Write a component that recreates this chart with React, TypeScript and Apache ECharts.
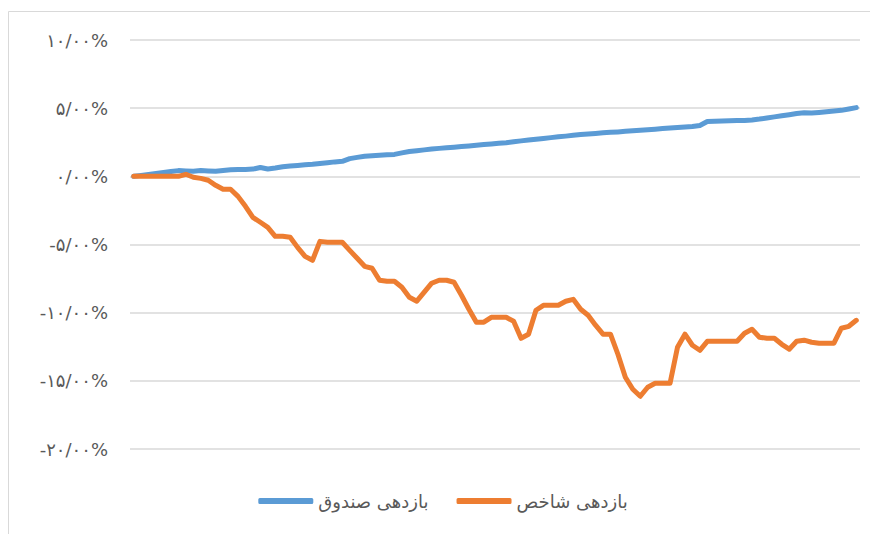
import React, { useEffect, useRef } from "react";
import * as echarts from "echarts";

const fundName = "بازدهی صندوق";
const indexName = "بازدهی شاخص";

const yTicks = [-20, -15, -10, -5, 0, 5, 10];

const fundReturns = [
  0, 0.07, 0.14, 0.21, 0.28, 0.35, 0.42, 0.39, 0.37, 0.42,
  0.39, 0.37, 0.43, 0.48, 0.51, 0.51, 0.53, 0.65, 0.54, 0.61,
  0.7, 0.76, 0.8, 0.85, 0.88, 0.94, 1.0, 1.06, 1.1, 1.3,
  1.39, 1.47, 1.51, 1.54, 1.58, 1.61, 1.72, 1.82, 1.88, 1.94,
  2.0, 2.05, 2.1, 2.14, 2.18, 2.23, 2.28, 2.33, 2.38, 2.43,
  2.47, 2.54, 2.6, 2.66, 2.72, 2.78, 2.84, 2.9, 2.95, 3.01,
  3.07, 3.11, 3.15, 3.19, 3.23, 3.26, 3.3, 3.34, 3.38, 3.42,
  3.46, 3.5, 3.54, 3.58, 3.61, 3.65, 3.73, 4.02, 4.04, 4.06,
  4.08, 4.1, 4.1, 4.14, 4.2, 4.28, 4.36, 4.44, 4.52, 4.61,
  4.66, 4.64, 4.69, 4.74, 4.79, 4.84, 4.94, 5.04,
];

const indexReturns = [
  0, 0, 0, 0, 0, 0, 0, 0.15, -0.07, -0.15,
  -0.29, -0.66, -0.95, -0.95, -1.47, -2.2, -3.01, -3.37, -3.74, -4.4,
  -4.4, -4.47, -5.21, -5.87, -6.16, -4.77, -4.84, -4.84, -4.84, -5.43,
  -6.01, -6.6, -6.74, -7.62, -7.7, -7.7, -8.14, -8.87, -9.16, -8.5,
  -7.84, -7.62, -7.62, -7.77, -8.72, -9.75, -10.7, -10.7, -10.34, -10.34,
  -10.34, -10.63, -11.88, -11.58, -9.82, -9.46, -9.46, -9.46, -9.16, -9.02,
  -9.75, -10.19, -10.92, -11.58, -11.58, -13.05, -14.74, -15.62, -16.13, -15.47,
  -15.18, -15.18, -15.18, -12.54, -11.58, -12.39, -12.76, -12.1, -12.1, -12.1,
  -12.1, -12.1, -11.51, -11.22, -11.8, -11.88, -11.88, -12.32, -12.68, -12.1,
  -12.02, -12.17, -12.24, -12.24, -12.24, -11.14, -11.0, -10.56,
];

const categories = fundReturns.map((_, i) => String(i + 1));

const persianDigits = ["۰", "۱", "۲", "۳", "۴", "۵", "۶", "۷", "۸", "۹"];
function toPersianPercent(v: number): string {
  const s = v.toFixed(2).replace(".", "/");
  return s.replace(/[0-9]/g, (d) => persianDigits[Number(d)]) + "%";
}

const FONT = "'DejaVu Sans', sans-serif";

export default function App() {
  const ref = useRef<HTMLDivElement>(null);
  useEffect(() => {
    if (!ref.current) return;
    const chart = echarts.init(ref.current, undefined, { renderer: "svg" });
    chart.setOption({
      animation: false,
      backgroundColor: "#ffffff",
      graphic: [
        {
          type: "rect",
          shape: { x: 0.5, y: 3.5, width: 900, height: 600 },
          style: { fill: "none", stroke: "#d9d9d9", lineWidth: 1 },
          silent: true,
        },
      ],
      grid: { left: 122, right: 18, top: 32, bottom: 85, containLabel: false },
      legend: {
        left: "center",
        top: 479,
        itemWidth: 55,
        itemHeight: 6,
        itemGap: 28,
        icon: "roundRect",
        textStyle: { fontFamily: FONT, fontSize: 18, color: "#595959" },
        data: [fundName, indexName],
      },
      xAxis: {
        type: "category",
        data: categories,
        boundaryGap: true,
        axisLine: { show: false },
        axisTick: { show: false },
        axisLabel: { show: false },
        splitLine: { show: false },
      },
      yAxis: {
        type: "value",
        min: yTicks[0],
        max: yTicks[yTicks.length - 1],
        interval: 5,
        axisLine: { show: false },
        axisTick: { show: false },
        axisLabel: {
          margin: 22,
          fontFamily: FONT,
          fontSize: 18,
          color: "#595959",
          formatter: (v: number) => toPersianPercent(v),
        },
        splitLine: { lineStyle: { color: "#d9d9d9", width: 1.5 } },
      },
      series: [
        {
          name: fundName,
          type: "line",
          data: fundReturns,
          symbol: "none",
          itemStyle: { color: "#5B9BD5" },
          lineStyle: { color: "#5B9BD5", width: 5, cap: "round", join: "round" },
        },
        {
          name: indexName,
          type: "line",
          data: indexReturns,
          symbol: "none",
          itemStyle: { color: "#ED7D31" },
          lineStyle: { color: "#ED7D31", width: 5, cap: "round", join: "round" },
        },
      ],
    });
    return () => chart.dispose();
  }, []);
  return <div ref={ref} style={{ width: 870, height: 526 }} />;
}
